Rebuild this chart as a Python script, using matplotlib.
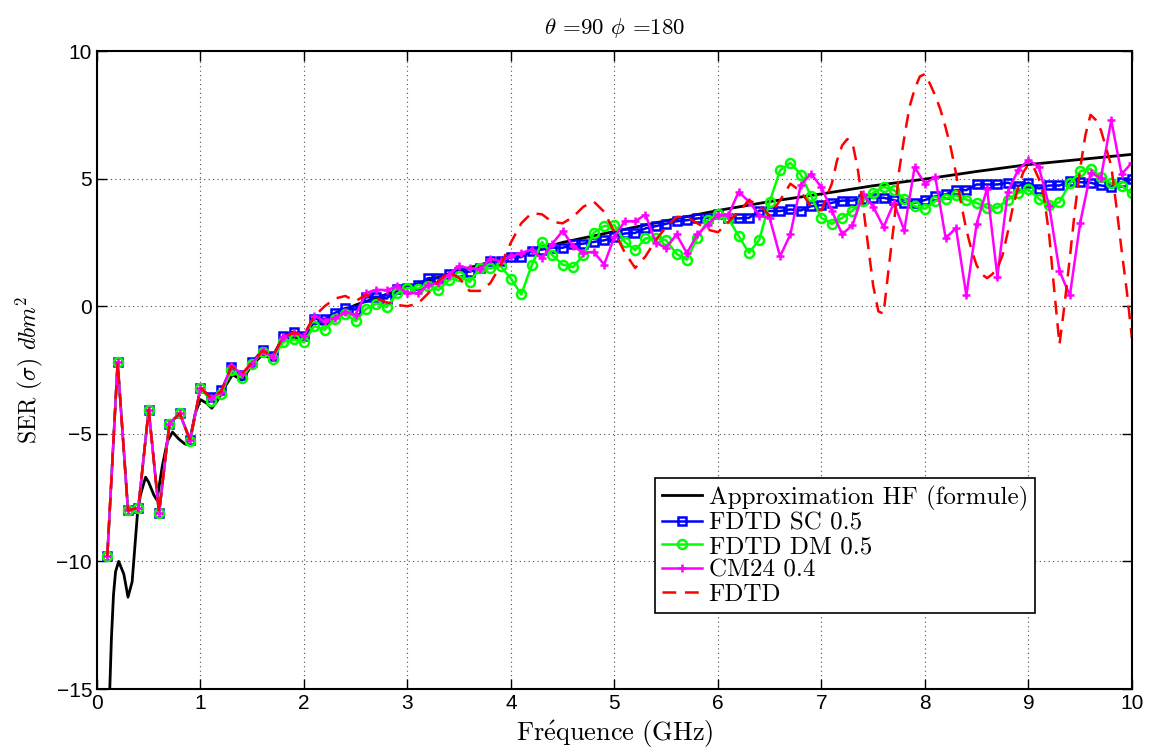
import numpy as np
import matplotlib
matplotlib.use('Agg')
import matplotlib.pyplot as plt

plt.rcParams['mathtext.fontset'] = 'cm'
plt.rcParams['font.family'] = ['Liberation Sans', 'DejaVu Sans']
cm_text = ['cmr10', 'DejaVu Serif']

# fréquences d'échantillonnage (GHz)
freq = np.round(np.arange(1, 101) * 0.1, 2)

# approximation haute fréquence (courbe lisse)
hf_f = [0.11, 0.12, 0.14, 0.16, 0.18, 0.21, 0.26, 0.3, 0.34, 0.39, 0.42, 0.47, 0.5,
        0.55, 0.58, 0.63, 0.68, 0.73, 0.79, 0.85, 0.9, 0.95, 1.0, 1.06, 1.11, 1.17,
        1.21, 1.31, 1.4, 1.5, 1.6, 1.69, 1.79, 1.9, 1.98, 2.09, 2.2, 2.3, 2.38, 2.5,
        3.0, 3.5, 4.0, 4.5, 5.0, 5.5, 6.0, 6.5, 7.0, 7.5, 8.0, 8.5, 9.0, 9.5, 10.0]
hf_v = [-17.0, -15.5, -13.0, -11.3, -10.4, -10.0, -10.5, -11.4, -10.8, -8.2, -7.4,
        -6.7, -6.9, -7.4, -7.6, -6.3, -5.3, -4.93, -5.2, -5.4, -5.2, -4.2, -3.66,
        -3.8, -4.0, -3.66, -3.33, -2.68, -2.9, -2.29, -1.9, -2.05, -1.37, -1.24,
        -1.31, -0.65, -0.72, -0.45, -0.17, 0.05, 0.75, 1.4, 1.95, 2.5, 2.93, 3.35,
        3.75, 4.1, 4.4, 4.72, 4.98, 5.28, 5.55, 5.75, 5.95]

sc_v = [-9.8, -2.2, -8.0, -7.9, -4.05, -8.1, -4.6, -4.2, -5.25, -3.2,
        -3.55, -3.3, -2.4, -2.7, -2.2, -1.7, -1.95, -1.15, -1.0, -1.15,
        -0.5, -0.5, -0.26, -0.07, -0.13, 0.35, 0.37, 0.3, 0.68, 0.73,
        0.85, 1.1, 1.1, 1.27, 1.35, 1.35, 1.5, 1.76, 1.76, 1.92,
        1.92, 2.16, 2.22, 2.29, 2.29, 2.42, 2.45, 2.52, 2.58, 2.7,
        2.85, 2.87, 3.05, 3.14, 3.23, 3.33, 3.37, 3.44, 3.46, 3.6,
        3.46, 3.44, 3.46, 3.75, 3.73, 3.73, 3.79, 3.75, 3.92, 3.96,
        4.05, 4.14, 4.14, 4.22, 4.25, 4.25, 4.16, 4.05, 4.05, 4.16,
        4.31, 4.38, 4.55, 4.55, 4.77, 4.77, 4.77, 4.84, 4.71, 4.84,
        4.61, 4.73, 4.73, 4.9, 4.86, 4.84, 4.73, 4.68, 4.86, 4.97]

dm_v = [-9.8, -2.2, -8.0, -7.9, -4.05, -8.1, -4.6, -4.2, -5.3, -3.2,
        -3.7, -3.45, -2.5, -2.8, -2.25, -1.8, -2.05, -1.4, -1.3, -1.41,
        -0.78, -0.92, -0.5, -0.29, -0.59, -0.1, 0.1, -0.03, 0.5, 0.72,
        0.69, 0.81, 0.63, 1.02, 1.18, 0.95, 1.48, 1.48, 1.57, 1.08,
        0.46, 1.6, 2.52, 2.0, 1.63, 1.53, 2.0, 2.88, 3.14, 3.17,
        2.52, 2.2, 2.66, 2.68, 2.58, 2.05, 1.82, 2.68, 3.36, 3.63,
        3.44, 2.75, 2.09, 2.61, 4.09, 5.32, 5.62, 5.16, 4.31, 3.46,
        3.23, 3.46, 3.75, 4.12, 4.44, 4.68, 4.55, 4.21, 3.92, 3.82,
        4.12, 4.21, 4.34, 4.18, 4.05, 3.86, 3.86, 4.18, 4.44, 4.58,
        4.21, 3.95, 4.08, 4.81, 5.29, 5.38, 5.07, 4.81, 4.71, 4.42]

cm24_v = [-9.8, -2.2, -8.0, -7.9, -4.05, -8.1, -4.6, -4.2, -5.25, -3.2,
          -3.6, -3.35, -2.35, -2.65, -2.25, -1.75, -2.0, -1.2, -1.05, -1.18,
          -0.37, -0.59, -0.46, -0.24, -0.33, 0.52, 0.65, 0.63, 0.78, 0.5,
          0.52, 0.82, 0.92, 1.24, 1.57, 1.48, 1.44, 1.86, 1.76, 1.96,
          2.09, 2.22, 1.87, 2.45, 2.95, 2.35, 2.09, 2.13, 1.63, 2.72,
          3.33, 3.33, 3.59, 2.48, 2.29, 2.81, 2.08, 2.81, 3.2, 3.57,
          3.56, 4.48, 4.1, 3.55, 3.45, 1.95, 2.82, 4.75, 5.19, 4.66,
          3.74, 2.82, 3.18, 4.39, 3.9, 3.1, 4.05, 2.97, 5.45, 4.8,
          5.07, 2.67, 3.06, 0.42, 3.24, 4.6, 1.16, 4.47, 5.34, 5.73,
          5.46, 3.93, 1.38, 0.42, 3.27, 5.22, 5.03, 7.29, 5.17, 5.63]

# FDTD : pas de 0.1 GHz jusqu'a 7 GHz puis 0.05 GHz
fdtd_f = np.concatenate([np.round(np.arange(1, 71) * 0.1, 2),
                         np.round(7 + np.arange(1, 61) * 0.05, 2)])
fdtd_v = [-9.8, -2.2, -8.0, -7.9, -4.05, -8.1, -4.6, -4.2, -5.25, -3.2,
          -3.6, -3.35, -2.35, -2.65, -2.2, -1.75, -1.95, -1.2, -1.05, -1.1,
          -0.4, 0.0, 0.3, 0.4, 0.2, 0.45, 0.3, 0.15, 0.05, 0.0,
          0.1, 0.5, 1.0, 1.35, 1.1, 0.6, 0.6, 0.9, 1.6, 2.5,
          3.25, 3.65, 3.6, 3.3, 3.25, 3.5, 3.9, 4.1, 3.7, 2.9,
          2.1, 1.5, 1.95, 2.6, 3.1, 3.5, 3.5, 3.25, 3.0, 2.9,
          3.3, 3.7, 4.15, 3.95, 3.55, 4.15, 4.8, 4.5, 3.9, 3.75,
          4.3, 4.8, 5.7, 6.3, 6.55, 6.4, 5.4, 4.0, 2.4, 0.8,
          -0.2, -0.3, 1.5, 3.2, 5.3, 6.6, 7.8, 8.5, 9.0, 9.1,
          8.7, 8.25, 7.7, 7.0, 6.2, 5.2, 4.0, 3.0, 2.2, 1.6,
          1.25, 1.1, 1.25, 1.5, 2.0, 2.9, 3.9, 4.65, 5.25, 5.55,
          5.45, 5.0, 4.3, 2.8, 0.6, -1.5, 0.1, 1.9, 3.8, 5.4,
          6.7, 7.5, 7.3, 6.9, 6.2, 5.5, 3.9, 2.2, 0.6, -1.25]

fig = plt.figure(figsize=(11.5, 7.49), dpi=100)
ax = fig.add_axes([0.0843, 0.0801, 0.9000, 0.8518])

ax.plot(hf_f, hf_v, color='black', lw=2.0, label='Approximation HF (formule)')
ax.plot(freq, sc_v, color='#0000ff', lw=1.8, marker='s', ms=5.5, mfc='none', mew=1.8,
        label='FDTD SC 0.5')
ax.plot(freq, dm_v, color='#00ff00', lw=1.8, marker='o', ms=6.5, mfc='none', mew=1.8,
        label='FDTD DM 0.5')
ax.plot(freq, cm24_v, color='#ff00ff', lw=1.8, marker='+', ms=5.5, mew=1.8,
        label='CM24 0.4')
ax.plot(fdtd_f, fdtd_v, color='#ff0000', lw=1.8, ls=(0, (5.5, 3.5)), label='FDTD')

ax.set_xlim(0, 10)
ax.set_ylim(-15, 10)
ax.set_xticks(range(0, 11))
ax.set_yticks([-15, -10, -5, 0, 5, 10])
ax.grid(True, ls=(0, (1, 3)), color='0.3', lw=0.8)
ax.tick_params(direction='in', top=True, right=True, length=7, width=1,
               labelsize=15)
for s in ax.spines.values():
    s.set_linewidth(1.5)

ax.set_xlabel(r'$\mathrm{Fr\acute{e}quence\ (GHz)}$', fontsize=19, labelpad=4)
ax.set_ylabel(r'SER ($\sigma$) $dbm^2$', fontsize=17, family=cm_text, labelpad=8)
ax.set_title(r'$\theta$ =90 $\phi$ =180', fontsize=16.5, family=cm_text, pad=12)

leg = ax.legend(loc='lower left', bbox_to_anchor=(0.539, 0.119), borderaxespad=0,
                prop={'family': cm_text, 'size': 18}, fancybox=False, framealpha=1,
                edgecolor='black', handlelength=1.6, labelspacing=0.05,
                borderpad=0.3, handletextpad=0.25)
leg.get_frame().set_linewidth(1.2)

plt.savefig('out.png', dpi=100)
